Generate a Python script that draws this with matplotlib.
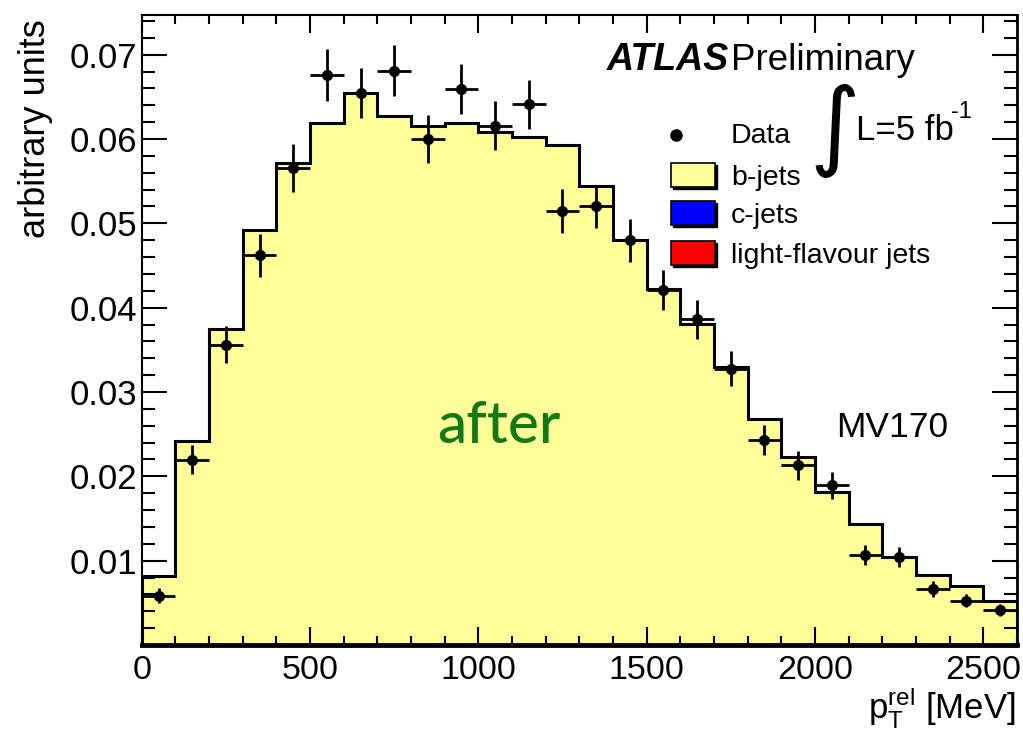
import matplotlib
matplotlib.use("Agg")
import matplotlib.pyplot as plt
import matplotlib.patches as mpatches
import numpy as np

# ---------------- data ----------------
bin_edges = list(range(0, 2700, 100))
bjets_mc = [0.00813, 0.02422, 0.03745, 0.04923, 0.05714, 0.06189, 0.06544, 0.06267,
            0.06148, 0.06189, 0.06082, 0.06018, 0.05923, 0.05445, 0.04805, 0.04224,
            0.03805, 0.03291, 0.02683, 0.02229, 0.01809, 0.01438, 0.01043, 0.00833,
            0.00695, 0.00517]
data_vals = [0.00584, 0.02197, 0.03560, 0.04619, 0.05655, 0.06761, 0.06544, 0.06809,
             0.05999, 0.06592, 0.06157, 0.06414, 0.05149, 0.05200, 0.04797, 0.04212,
             0.03860, 0.03276, 0.02434, 0.02129, 0.01892, 0.01071, 0.01039, 0.00664,
             0.00525, 0.00418]
data_errs = [0.0009, 0.0017, 0.0022, 0.0025, 0.0028, 0.0031, 0.0030, 0.0030,
             0.0028, 0.0030, 0.0029, 0.0029, 0.0026, 0.0026, 0.0026, 0.0024,
             0.0023, 0.0021, 0.0018, 0.0017, 0.0016, 0.0012, 0.0012, 0.0009,
             0.0008, 0.0007]
legend_labels = ["Data", "b-jets", "c-jets", "light-flavour jets"]
legend_colors = [None, "#ffff99", "#0000ff", "#ff0000"]
x_ticks = [0, 500, 1000, 1500, 2000, 2500]
y_ticks = [0.01, 0.02, 0.03, 0.04, 0.05, 0.06, 0.07]

plt.rcParams['font.family'] = ['Liberation Sans', 'DejaVu Sans']
plt.rcParams['mathtext.fontset'] = 'custom'
plt.rcParams['mathtext.rm'] = 'Liberation Sans'
plt.rcParams['mathtext.it'] = 'Liberation Sans:italic'
plt.rcParams['mathtext.bf'] = 'Liberation Sans:bold'

W, H = 1023, 730
fig = plt.figure(figsize=(W / 100, H / 100), dpi=100)
L, R, T, B = 141.7, 1016.9, 15, 645
ax = fig.add_axes([L / W, 1 - B / H, (R - L) / W, (B - T) / H])

def fx(x):
    return x / W

def fy(y):
    return 1 - y / H

edges = np.array(bin_edges, dtype=float)
mc = np.array(bjets_mc)
centers = 0.5 * (edges[:-1] + edges[1:])
halfw = 0.5 * np.diff(edges)

# filled histogram
ax.stairs(mc, edges, fill=True, color="#ffff99", zorder=1)
ax.stairs(mc, edges, fill=False, color="black", linewidth=2.2, zorder=2)

# data points
ax.errorbar(centers, data_vals, yerr=data_errs, xerr=halfw, fmt='o', color='black',
            markersize=7, elinewidth=2.0, capsize=0, zorder=4)

ax.set_xlim(0, 2600)
ax.set_ylim(0, 0.0747)
ax.set_xticks(x_ticks)
ax.set_xticklabels([str(v) for v in x_ticks])
ax.set_xticks(np.arange(0, 2601, 100), minor=True)
ax.set_yticks(y_ticks)
ax.set_yticklabels(["%.2f" % v for v in y_ticks])
ax.set_yticks(np.arange(0, 0.0747, 0.002), minor=True)

ax.tick_params(which='both', direction='in', top=True, right=True, width=1.5,
               labelsize=25)
ax.tick_params(axis='x', which='major', length=13, pad=7, labelsize=24.5)
ax.tick_params(axis='x', which='minor', length=6.5)
ax.tick_params(axis='y', which='major', length=18, pad=3)
ax.tick_params(axis='y', which='minor', length=9.5)

for s in ['left', 'top']:
    ax.spines[s].set_linewidth(1.5)
ax.spines['right'].set_linewidth(2.0)
ax.spines['bottom'].set_linewidth(3.5)

# axis titles
fig.text(fx(36), fy(19), "arbitrary units", rotation=90, ha='center', va='top',
         fontsize=26)
fig.text(fx(1016), fy(718), r"$\mathrm{p}_{\mathrm{T}}^{\mathrm{rel}}$ [MeV]",
         ha='right', va='baseline', fontsize=25)

# ATLAS Preliminary
fig.text(fx(607), fy(70), "ATLAS", fontsize=27, fontweight='bold', style='italic',
         ha='left', va='baseline')
fig.text(fx(731), fy(70), "Preliminary", fontsize=26.5, ha='left', va='baseline')

# luminosity
fig.text(fx(835), fy(131), "\u222b", fontsize=70, ha='center', va='center',
         family='DejaVu Sans')
fig.text(fx(856), fy(140), "L=5 fb", fontsize=25, ha='left', va='baseline')
fig.text(fx(951), fy(118), "-1", fontsize=17, ha='left', va='baseline')

# legend
row_y = [135, 175, 213, 253]
fig.add_artist(plt.Line2D([fx(676)], [fy(row_y[0])], marker='o', color='black',
                          markersize=8, transform=fig.transFigure))
for i, (lab, col) in enumerate(zip(legend_labels, legend_colors)):
    yc = row_y[i]
    if col is not None:
        bw, bh = 43.5, 23.5
        x0, y0 = 671, yc - bh / 2
        shadow = mpatches.Rectangle((fx(x0 + 2), fy(y0 + bh + 2)), bw / W, bh / H,
                                    transform=fig.transFigure, facecolor='black',
                                    edgecolor='black', linewidth=1.0)
        box = mpatches.Rectangle((fx(x0), fy(y0 + bh)), bw / W, bh / H,
                                 transform=fig.transFigure, facecolor=col,
                                 edgecolor='black', linewidth=1.2)
        fig.add_artist(shadow)
        fig.add_artist(box)
    fig.text(fx(731), fy(yc + (8 if i == 0 else 10)), lab, fontsize=20.5, ha='left',
             va='baseline')

# annotations
fig.text(fx(892), fy(437), "MV170", fontsize=25.5, ha='center', va='baseline')
fig.text(fx(499), fy(443), "after", fontsize=42, ha='center', va='baseline',
         color='#137a13', family=['Lato', 'DejaVu Sans'], fontweight='medium')

fig.savefig("out.png", dpi=100)
